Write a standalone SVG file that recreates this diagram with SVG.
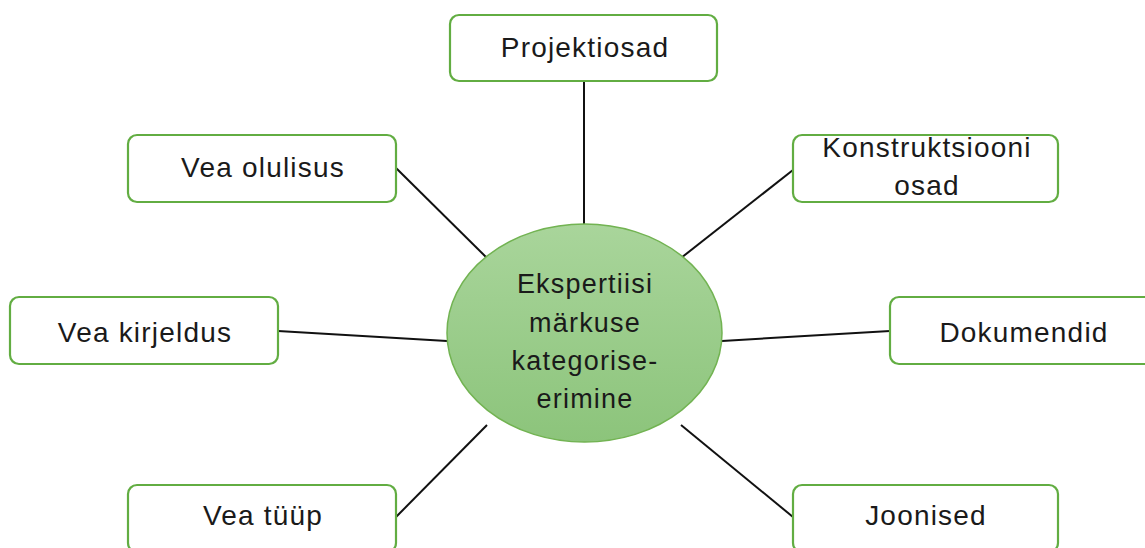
<svg xmlns="http://www.w3.org/2000/svg" width="1145" height="548" viewBox="0 0 1145 548">
<defs>
<linearGradient id="g" x1="0" y1="0" x2="0" y2="1">
<stop offset="0" stop-color="#a9d59b"/>
<stop offset="1" stop-color="#8cc47b"/>
</linearGradient>
<style>
.box{fill:#fff;stroke:#62ad42;stroke-width:2.2}
.t{font-family:"Liberation Sans",Arial,sans-serif;font-size:28px;letter-spacing:1.2px;fill:#1a1a1a;text-anchor:middle}
.c{font-family:"Liberation Sans",Arial,sans-serif;font-size:27px;letter-spacing:1.2px;fill:#1a1a1a;text-anchor:middle}
.ln{stroke:#111;stroke-width:2;fill:none}
</style>
</defs>
<rect width="1145" height="548" fill="#fff"/>
<g id="connectors">
<line class="ln" x1="584" y1="82" x2="584" y2="225"/>
<line class="ln" x1="793" y1="170" x2="681" y2="258"/>
<line class="ln" x1="396" y1="168" x2="487" y2="258"/>
<line class="ln" x1="278" y1="331" x2="447" y2="341"/>
<line class="ln" x1="890" y1="331" x2="722" y2="341"/>
<line class="ln" x1="396" y1="517" x2="487" y2="425"/>
<line class="ln" x1="793" y1="517" x2="681" y2="425"/>
</g>
<g id="center">
<ellipse cx="584.5" cy="333" rx="137.5" ry="109" fill="url(#g)" stroke="#72b352" stroke-width="1.5"/>
<text class="c" x="585" y="293">Ekspertiisi</text>
<text class="c" x="585" y="332">märkuse</text>
<text class="c" x="585" y="370">kategorise-</text>
<text class="c" x="585" y="408">erimine</text>
</g>
<g id="projektiosad">
<rect class="box" x="450" y="15" width="267" height="66" rx="9"/>
<text class="t" x="585" y="57">Projektiosad</text>
</g>
<g id="konstruktsiooni">
<rect class="box" x="793" y="135" width="265" height="67" rx="9"/>
<text class="t" x="927" y="157">Konstruktsiooni</text>
<text class="t" x="927" y="195">osad</text>
</g>
<g id="vea-olulisus">
<rect class="box" x="128" y="135" width="268" height="67" rx="9"/>
<text class="t" x="263" y="177">Vea olulisus</text>
</g>
<g id="vea-kirjeldus">
<rect class="box" x="10" y="297" width="268" height="67" rx="9"/>
<text class="t" x="145" y="342">Vea kirjeldus</text>
</g>
<g id="dokumendid">
<rect class="box" x="890" y="297" width="268" height="67" rx="9"/>
<text class="t" x="1024" y="342">Dokumendid</text>
</g>
<g id="vea-tyyp">
<rect class="box" x="128" y="485" width="268" height="67" rx="9"/>
<text class="t" x="263" y="525">Vea tüüp</text>
</g>
<g id="joonised">
<rect class="box" x="793" y="485" width="265" height="67" rx="9"/>
<text class="t" x="926" y="525">Joonised</text>
</g>
</svg>
